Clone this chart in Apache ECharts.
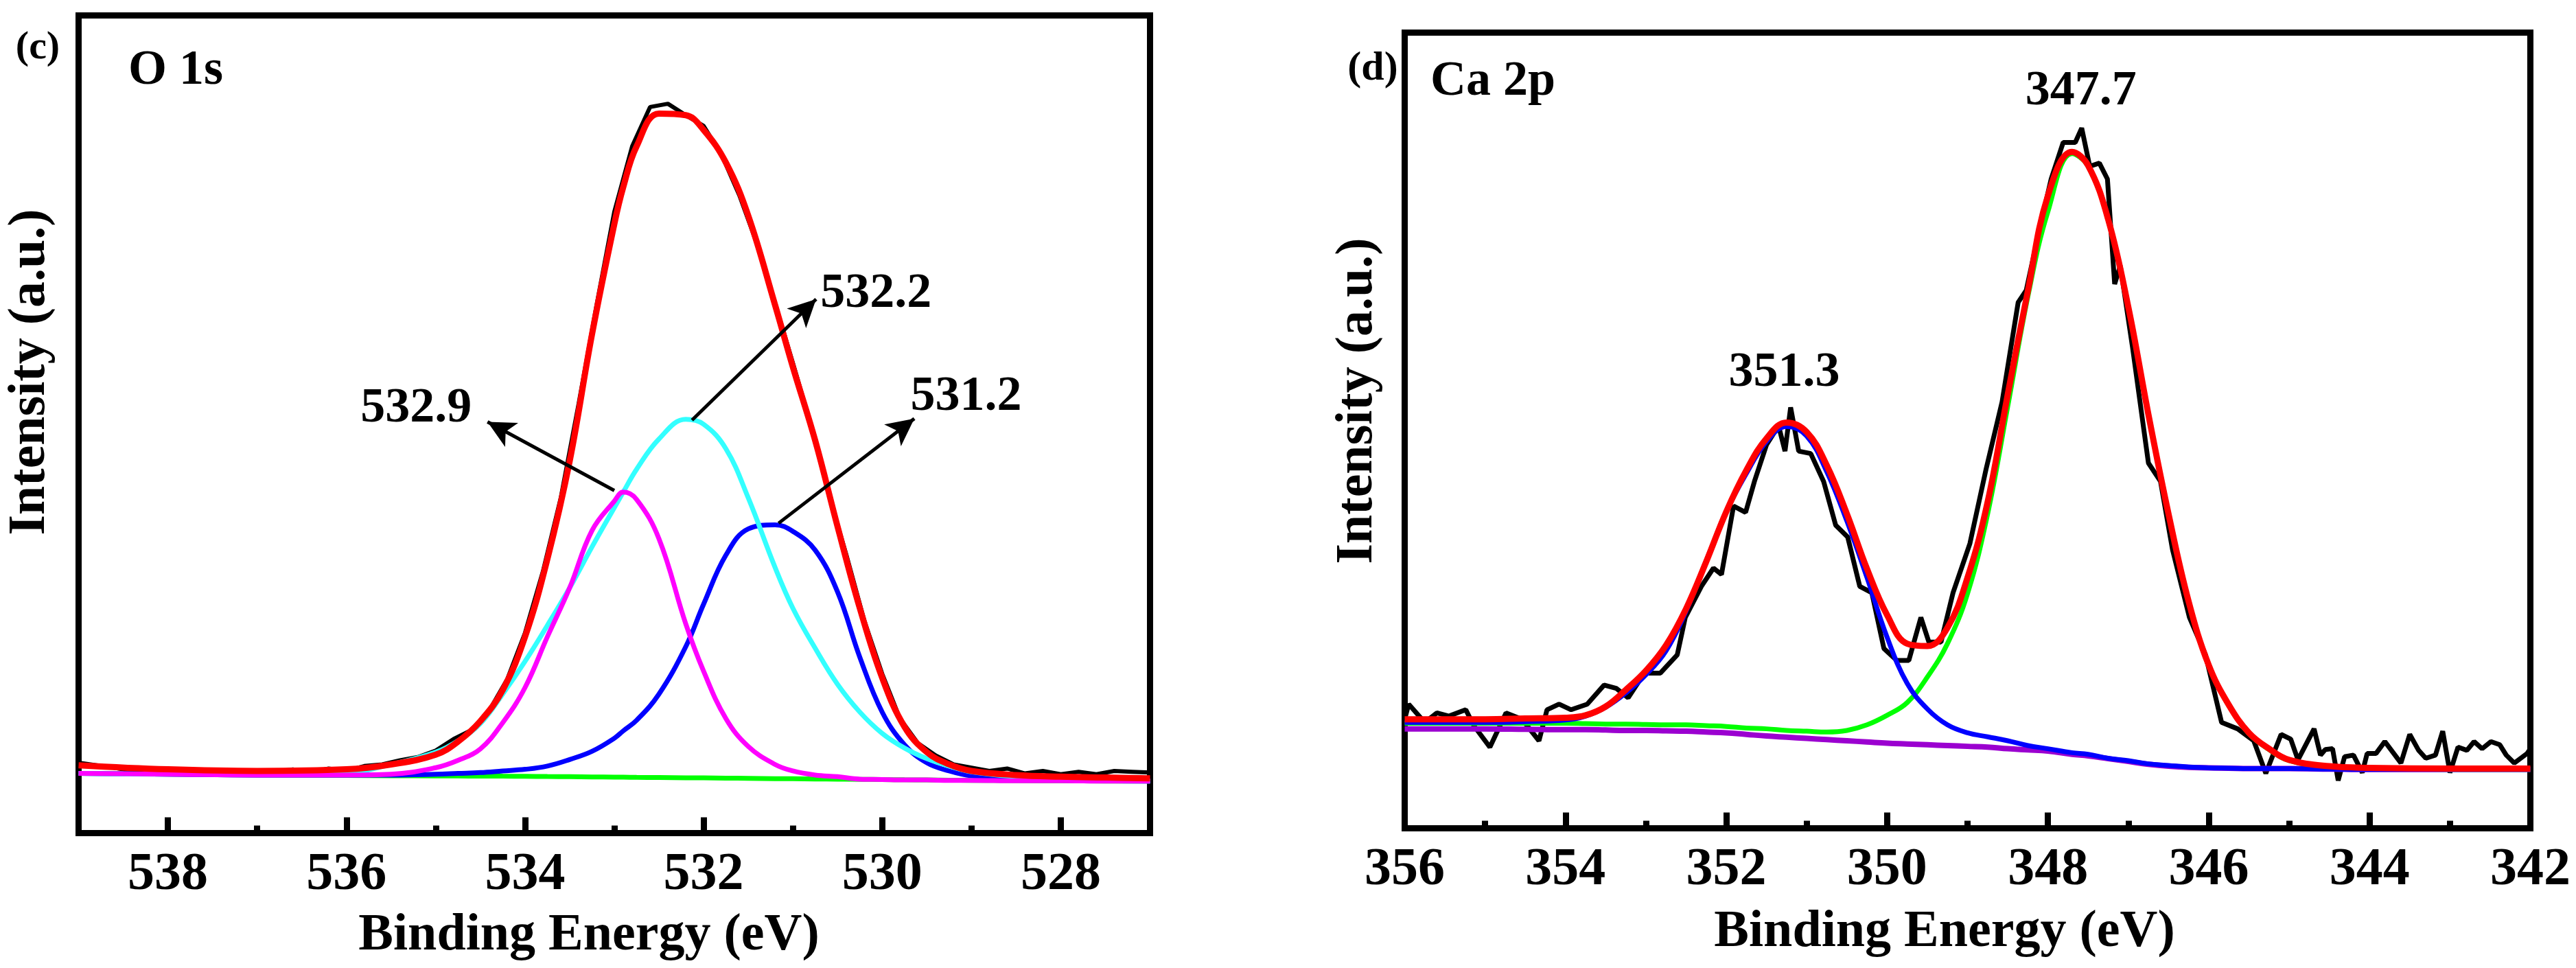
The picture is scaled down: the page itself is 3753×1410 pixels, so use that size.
<!DOCTYPE html>
<html>
<head>
<meta charset="utf-8">
<script src="https://cdn.jsdelivr.net/npm/echarts@6/dist/echarts.min.js"></script>
<style>
  html, body { margin: 0; padding: 0; background: #fff; }
  #chart-container { width: 3753px; height: 1410px; }
</style>
</head>
<body>
<div id="chart-container"></div>
<script>
// ---- data (intensity in arbitrary units, 0-100 of the frame) ----

// O 1s panel
var o1sMajorTicks = [538, 536, 534, 532, 530, 528];
var o1sMinorTicks = [537, 535, 533, 531, 529];
var o1sPeaks = ['532.9', '532.2', '531.2'];

var o1sFitX = [539, 538, 537, 536, 535.5, 535, 534.75, 534.5, 534.25, 534, 533.75, 533.5, 533.25, 533,
    532.9, 532.75, 532.5, 532.2, 532, 531.75, 531.5, 531.2, 531, 530.75, 530.5, 530.25, 530, 529.75,
    529.5, 529.25, 529, 528.5, 528, 527.5, 527];
var o1sEnvelope = [8.3, 7.8, 7.6, 7.8, 8.4, 9.6, 11.2, 13.7, 17.5, 24.0, 33.5, 45.5, 61.0, 74.5,
    79.0, 84.0, 88.0, 87.8, 86.0, 82.0, 75.5, 64.6, 57.0, 48.0, 37.5, 27.5, 19.0, 13.0,
    9.9, 8.4, 7.6, 7.1, 6.9, 6.8, 6.7];
var o1sBackground = [7.3, 7.2, 7.1, 7.05, 7.02, 7.0, 6.98, 6.97, 6.96, 6.95, 6.92, 6.9, 6.87, 6.85,
    6.84, 6.82, 6.8, 6.76, 6.75, 6.72, 6.7, 6.66, 6.65, 6.62, 6.6, 6.57, 6.55, 6.52,
    6.5, 6.47, 6.45, 6.42, 6.4, 6.37, 6.35];
var o1sPeak1 = [7.3, 7.2, 7.1, 7.1, 7.2, 8.0, 8.9, 10.3, 13.5, 17.8, 24.0, 30.0, 37.0, 40.6,
    41.7, 40.8, 36.0, 25.6, 19.8, 14.0, 10.6, 8.4, 7.6, 7.1, 6.9, 6.6, 6.55, 6.5,
    6.5, 6.45, 6.45, 6.4, 6.4, 6.35, 6.35];
var o1sPeak2 = [7.3, 7.2, 7.2, 7.4, 8.4, 9.9, 11.3, 13.4, 17.0, 21.0, 25.4, 30.0, 35.0, 39.8,
    41.7, 44.5, 48.2, 50.6, 50.0, 47.0, 41.0, 32.5, 27.5, 22.6, 18.2, 14.8, 12.2, 10.4,
    9.1, 8.2, 7.5, 6.9, 6.6, 6.4, 6.35];
var o1sPeak3 = [7.3, 7.2, 7.1, 7.1, 7.1, 7.2, 7.3, 7.4, 7.6, 7.8, 8.2, 9.0, 10.0, 11.6,
    12.5, 13.8, 17.0, 22.8, 28.0, 34.0, 37.2, 37.7, 36.9, 34.6, 29.5, 21.5, 14.8, 10.8,
    8.6, 7.6, 7.0, 6.6, 6.5, 6.4, 6.35];
var o1sRaw = [
    [539.0, 8.6], [538.8, 8.3], [538.6, 8.0], [538.4, 7.6], [538.2, 7.9], [538.0, 7.4], [537.8, 7.6],
    [537.6, 7.3], [537.4, 7.7], [537.2, 7.5], [537.0, 7.6], [536.8, 7.5], [536.6, 7.8], [536.4, 7.4],
    [536.2, 7.9], [536.0, 7.6], [535.8, 8.2], [535.6, 8.4], [535.4, 8.9], [535.2, 9.3], [535.0, 10.1],
    [534.8, 11.5], [534.6, 12.6], [534.4, 15.0], [534.2, 18.8], [534.0, 24.5], [533.8, 32.0], [533.6, 41.0],
    [533.4, 52.5], [533.2, 64.5], [533.0, 76.0], [532.8, 84.0], [532.6, 88.8], [532.4, 89.2], [532.2, 87.8],
    [532.0, 86.5], [531.8, 83.0], [531.6, 78.0], [531.4, 72.0], [531.2, 64.8], [531.0, 57.5], [530.8, 50.0],
    [530.6, 41.5], [530.4, 34.0], [530.2, 26.0], [530.0, 19.5], [529.8, 14.0], [529.6, 11.0], [529.4, 9.5],
    [529.2, 8.4], [529.0, 8.0], [528.8, 7.6], [528.6, 7.9], [528.4, 7.3], [528.2, 7.6], [528.0, 7.2],
    [527.8, 7.5], [527.6, 7.2], [527.4, 7.6], [527.2, 7.5], [527.0, 7.4]
];

// Ca 2p panel
var ca2pMajorTicks = [356, 354, 352, 350, 348, 346, 344, 342];
var ca2pMinorTicks = [355, 353, 351, 349, 347, 345, 343];
var ca2pPeaks = ['351.3', '347.7'];

var ca2pFitX = [356, 355, 354.5, 354, 353.75, 353.5, 353.25, 353, 352.75, 352.5, 352.25, 352, 351.75,
    351.5, 351.25, 351, 350.75, 350.5, 350.25, 350, 349.75, 349.5, 349.25, 349, 348.75, 348.5, 348.25,
    348, 347.7, 347.5, 347.25, 347, 346.75, 346.5, 346.25, 346, 345.75, 345.5, 345.25, 345, 344.5,
    344, 343, 342];
var ca2pEnvelope = [13.7, 13.7, 13.8, 13.9, 14.2, 15.3, 17.4, 19.8, 23.0, 27.6, 33.5, 39.8, 45.0,
    49.0, 51.0, 49.8, 45.6, 39.5, 32.6, 26.8, 23.2, 22.9, 25.2, 31.5, 41.0, 54.5, 67.5,
    79.5, 85.0, 83.3, 76.5, 65.5, 52.0, 39.5, 28.5, 20.5, 15.5, 12.0, 10.0, 8.6, 7.8,
    7.6, 7.5, 7.5];
var ca2pBackground = [12.5, 12.5, 12.45, 12.4, 12.4, 12.35, 12.3, 12.3, 12.25, 12.2, 12.1, 12.0, 11.8,
    11.6, 11.45, 11.3, 11.15, 11.0, 10.85, 10.7, 10.6, 10.5, 10.4, 10.3, 10.2, 10.0, 9.85,
    9.7, 9.3, 9.1, 8.75, 8.4, 8.05, 7.8, 7.65, 7.6, 7.55, 7.5, 7.5, 7.5, 7.45,
    7.4, 7.4, 7.4];
var ca2pPeak1 = [13.3, 13.3, 13.4, 13.6, 14.1, 15.2, 17.0, 19.3, 22.3, 27.3, 33.6, 39.8, 44.6,
    48.6, 50.5, 49.3, 44.8, 38.6, 31.5, 24.0, 18.2, 15.0, 13.0, 12.0, 11.5, 11.0, 10.4,
    10.0, 9.5, 9.3, 8.8, 8.5, 8.1, 7.9, 7.7, 7.6, 7.55, 7.5, 7.5, 7.5, 7.45,
    7.4, 7.4, 7.4];
var ca2pPeak2 = [13.2, 13.2, 13.2, 13.2, 13.15, 13.1, 13.1, 13.05, 13.0, 13.0, 12.9, 12.8, 12.6,
    12.5, 12.3, 12.2, 12.1, 12.3, 13.0, 14.2, 15.8, 19.0, 23.2, 29.5, 39.5, 53.0, 66.8,
    77.5, 84.8, 83.2, 76.4, 65.4, 51.9, 39.4, 28.4, 20.4, 15.4, 11.9, 9.9, 8.5, 7.7,
    7.5, 7.4, 7.4];
var ca2pRaw = [
    [356.00, 13.7], [355.95, 15.6], [355.75, 13.3], [355.60, 14.5], [355.45, 14.1], [355.24, 14.9],
    [355.14, 12.9], [354.94, 10.2], [354.74, 14.5], [354.54, 13.7], [354.33, 11.0], [354.23, 14.9],
    [354.08, 15.6], [353.93, 14.9], [353.73, 15.6], [353.52, 18.0], [353.37, 17.6], [353.22, 16.4],
    [353.02, 19.5], [352.82, 19.5], [352.61, 21.8], [352.51, 26.5], [352.31, 30.4], [352.16, 32.7],
    [352.06, 31.9], [351.91, 40.5], [351.76, 39.7], [351.65, 43.6], [351.50, 48.2], [351.35, 50.6],
    [351.27, 47.4], [351.20, 52.9], [351.10, 47.4], [350.95, 47.1], [350.79, 43.6], [350.64, 38.1],
    [350.49, 36.6], [350.34, 30.4], [350.19, 29.6], [350.04, 22.6], [349.88, 21.1], [349.73, 21.1],
    [349.58, 26.5], [349.48, 23.4], [349.33, 23.4], [349.18, 29.6], [348.97, 35.8], [348.77, 45.1],
    [348.57, 53.6], [348.37, 66.1], [348.27, 67.6], [348.12, 74.6], [347.96, 81.6], [347.81, 86.2],
    [347.66, 86.2], [347.58, 88.0], [347.48, 83.2], [347.36, 83.6], [347.26, 81.6], [347.17, 68.4],
    [347.10, 70.7], [346.95, 60.6], [346.75, 45.9], [346.60, 43.6], [346.45, 35.0], [346.24, 26.5],
    [346.04, 21.8], [345.84, 13.3], [345.64, 12.5], [345.44, 11.0], [345.29, 6.9], [345.10, 11.8],
    [344.98, 11.2], [344.89, 8.6], [344.69, 12.5], [344.61, 9.2], [344.55, 9.9], [344.46, 10.0],
    [344.39, 6.0], [344.31, 9.0], [344.20, 9.2], [344.09, 7.0], [344.03, 9.4], [343.92, 9.4],
    [343.81, 10.9], [343.61, 8.2], [343.50, 11.8], [343.39, 9.8], [343.30, 8.8], [343.18, 9.2],
    [343.09, 12.2], [343.00, 7.0], [342.90, 10.2], [342.79, 9.8], [342.70, 10.9], [342.60, 10.0],
    [342.49, 10.9], [342.38, 10.5], [342.30, 9.2], [342.20, 8.2], [342.04, 9.4], [342.00, 10.0]
];

// ---- chart ----
var FONT = '"Liberation Serif", "Times New Roman", serif';

function pairs(xs, ys) {
    return xs.map(function (x, i) { return [x, ys[i]]; });
}

function mainAxis(grid, min, max, ticks) {
    return {
        gridIndex: grid, type: 'value', min: min, max: max, inverse: true, position: 'bottom',
        axisLine: {show: false},
        splitLine: {show: false},
        axisTick: {show: true, inside: true, length: 23, customValues: ticks,
            lineStyle: {color: '#000', width: 9}},
        axisLabel: {show: true, customValues: ticks, margin: 22, color: '#000',
            fontSize: 78, fontWeight: 'bold', fontFamily: FONT}
    };
}

function minorAxis(grid, min, max, ticks) {
    return {
        gridIndex: grid, type: 'value', min: min, max: max, inverse: true, position: 'bottom',
        axisLine: {show: false},
        splitLine: {show: false},
        axisTick: {show: true, inside: true, length: 11, customValues: ticks,
            lineStyle: {color: '#000', width: 9}},
        axisLabel: {show: false}
    };
}

function curve(name, xi, yi, data, color, width, smooth) {
    return {
        name: name, type: 'line', xAxisIndex: xi, yAxisIndex: yi, data: data,
        showSymbol: false, symbol: 'none', smooth: smooth ? 0.4 : false,
        lineStyle: {color: color, width: width},
        silent: true
    };
}

function peakLabels(texts, coords) {
    return {
        symbol: 'circle', symbolSize: 1, silent: true,
        itemStyle: {color: 'rgba(0,0,0,0)'},
        label: {show: true, position: 'inside', formatter: '{b}', color: '#000',
            fontSize: 72, fontWeight: 'bold', fontFamily: FONT},
        data: texts.map(function (t, i) { return {name: t, coord: coords[i]}; })
    };
}

var chartDom = document.getElementById('chart-container');
var myChart = echarts.init(chartDom);

var o1sFit = curve('Fit', 0, 0, pairs(o1sFitX, o1sEnvelope), '#ff0000', 9, true);
o1sFit.markPoint = peakLabels(o1sPeaks, [[535.22, 51.9], [530.07, 65.9], [529.06, 53.3]]);
o1sFit.markLine = {
    silent: true, symbol: ['none', 'arrow'], symbolSize: [30, 40],
    lineStyle: {color: '#000', width: 5, type: 'solid'},
    label: {show: false},
    data: [
        [{coord: [533.0, 41.9]}, {coord: [534.42, 50.3]}],
        [{coord: [532.13, 50.5]}, {coord: [530.74, 65.3]}],
        [{coord: [531.16, 37.9]}, {coord: [529.64, 50.7]}]
    ]
};

var ca2pFit = curve('Fit', 2, 1, pairs(ca2pFitX, ca2pEnvelope), '#ff0000', 9, true);
ca2pFit.markPoint = peakLabels(ca2pPeaks, [[351.28, 57.2], [347.59, 92.6]]);

function text(str, x, y, size, align, rot) {
    return {
        type: 'text', x: x, y: y, rotation: rot || 0, silent: true,
        style: {text: str, fill: '#000', fontSize: size, fontWeight: 'bold', fontFamily: FONT,
            textAlign: align, textVerticalAlign: 'middle'}
    };
}

var option = {
    animation: false,
    backgroundColor: '#fff',
    grid: [
        {left: 114.5, top: 22.5, width: 1561, height: 1191, show: true,
            borderColor: '#000', borderWidth: 9, backgroundColor: 'transparent',
            containLabel: false, outerBoundsMode: 'none'},
        {left: 2046.5, top: 47.5, width: 1640, height: 1159, show: true,
            borderColor: '#000', borderWidth: 9, backgroundColor: 'transparent',
            containLabel: false, outerBoundsMode: 'none'}
    ],
    xAxis: [
        mainAxis(0, 527, 539, o1sMajorTicks),
        minorAxis(0, 527, 539, o1sMinorTicks),
        mainAxis(1, 342, 356, ca2pMajorTicks),
        minorAxis(1, 342, 356, ca2pMinorTicks)
    ],
    yAxis: [
        {gridIndex: 0, type: 'value', min: 0, max: 100, show: false},
        {gridIndex: 1, type: 'value', min: 0, max: 100, show: false}
    ],
    graphic: [
        text('(c)', 55, 70, 58, 'center'),
        text('(d)', 2000, 100, 60, 'center'),
        text('O 1s', 187, 103, 72, 'left'),
        text('Ca 2p', 2084, 119, 72, 'left'),
        text('Intensity (a.u.)', 44, 542, 76, 'center', Math.PI / 2),
        text('Intensity (a.u.)', 1978, 584, 76, 'center', Math.PI / 2),
        text('Binding Energy (eV)', 858, 1363, 76, 'center'),
        text('Binding Energy (eV)', 2833, 1358, 76, 'center')
    ],
    series: [
        curve('Raw', 0, 0, o1sRaw, '#000000', 6, false),
        curve('Background', 0, 0, pairs(o1sFitX, o1sBackground), '#00ff00', 7, true),
        curve('531.2', 0, 0, pairs(o1sFitX, o1sPeak3), '#0000ff', 7, true),
        curve('532.2', 0, 0, pairs(o1sFitX, o1sPeak2), '#33ffff', 7, true),
        curve('532.9', 0, 0, pairs(o1sFitX, o1sPeak1), '#ff00ff', 7, true),
        o1sFit,
        curve('Raw', 2, 1, ca2pRaw, '#000000', 7, false),
        curve('Background', 2, 1, pairs(ca2pFitX, ca2pBackground), '#9b00d0', 8, true),
        curve('347.7', 2, 1, pairs(ca2pFitX, ca2pPeak2), '#00ff00', 7, true),
        curve('351.3', 2, 1, pairs(ca2pFitX, ca2pPeak1), '#0000ff', 7, true),
        ca2pFit
    ]
};

option && myChart.setOption(option);
</script>
</body>
</html>
